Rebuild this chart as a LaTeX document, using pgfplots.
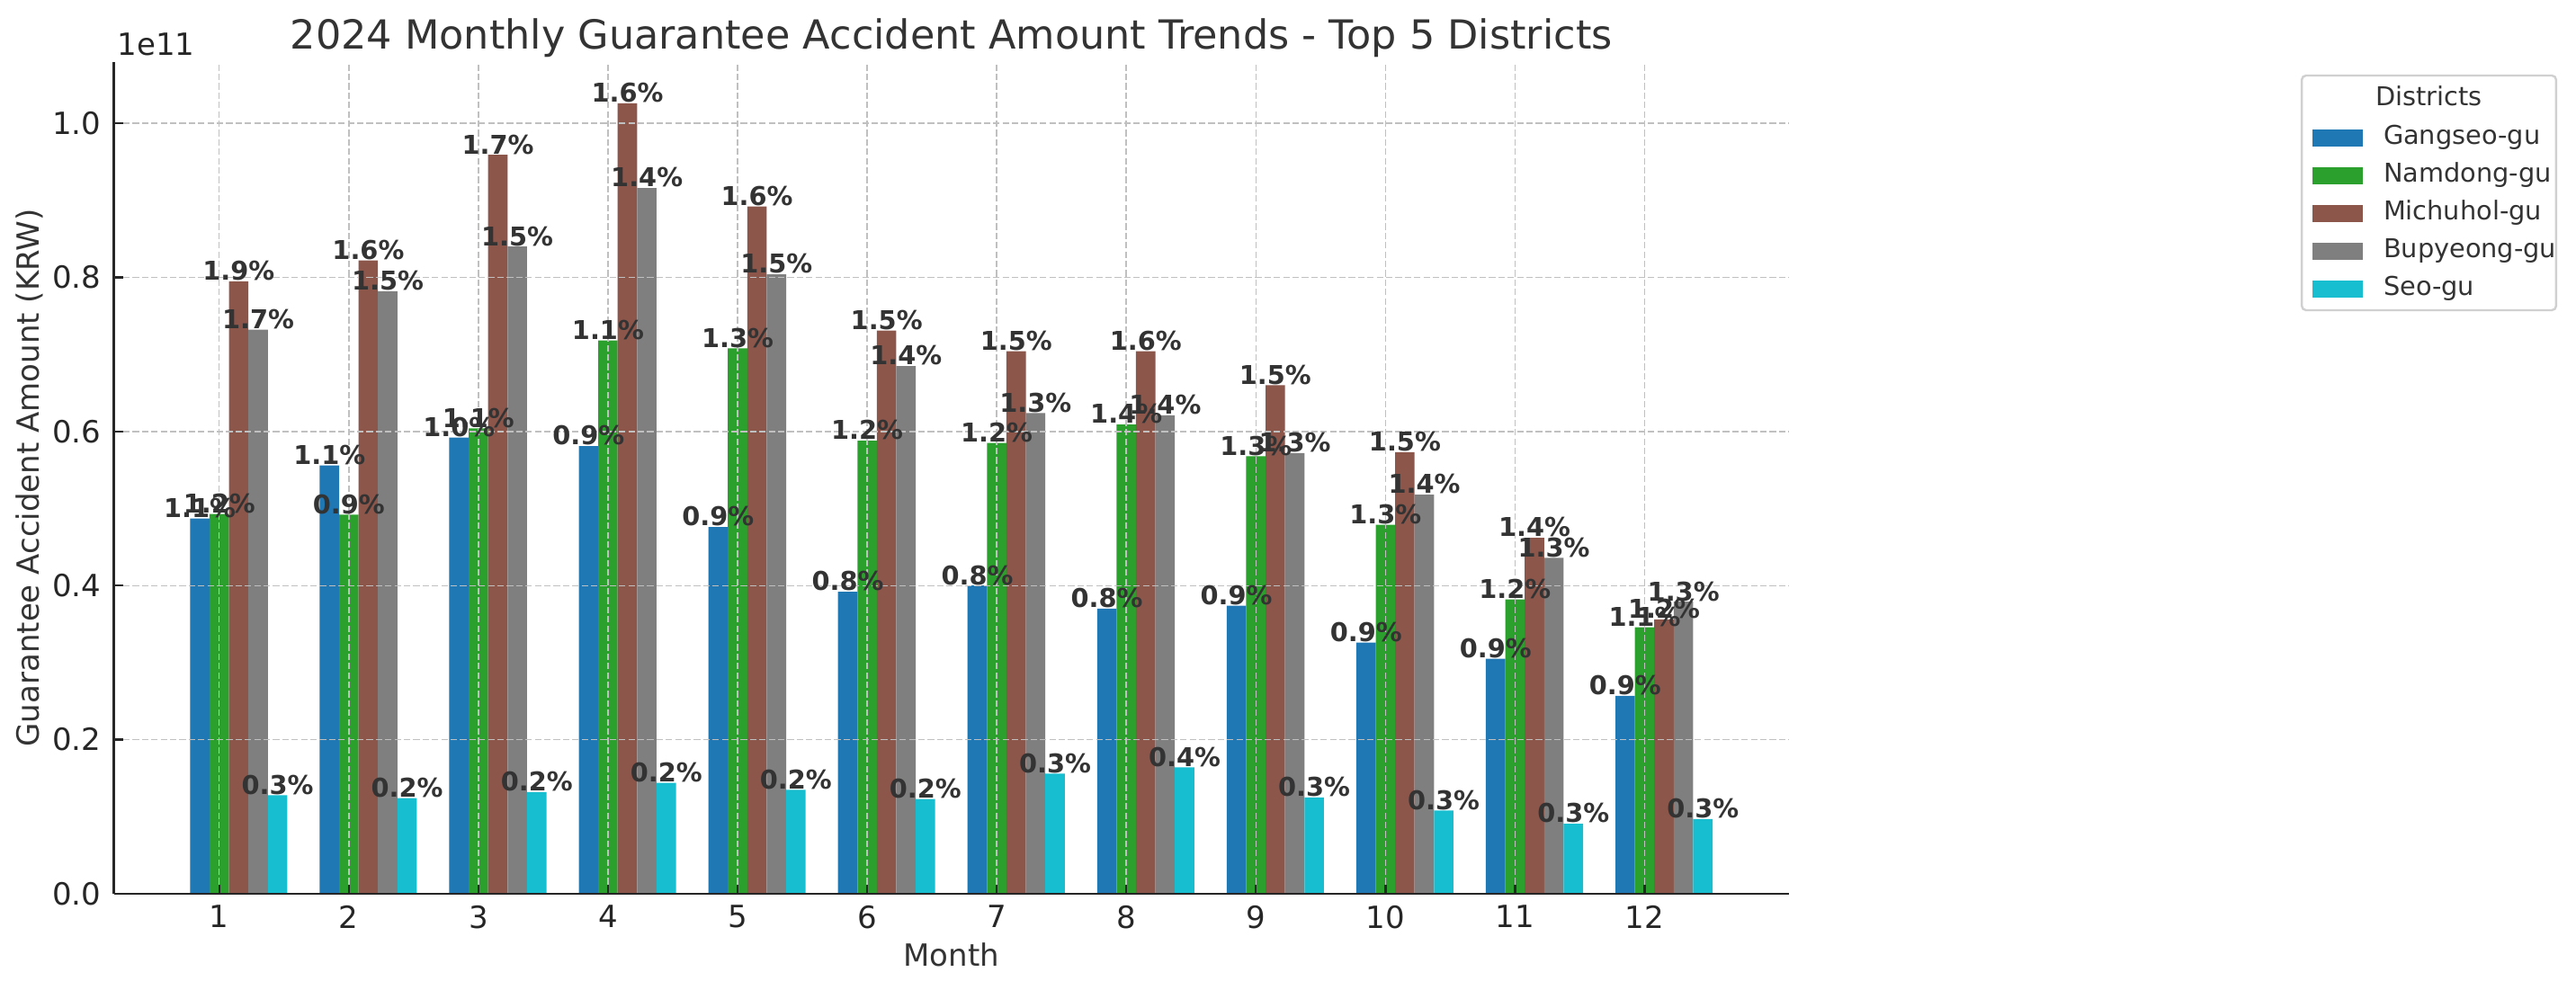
\documentclass[border=0pt]{standalone}
\usepackage{pgfplots}
\pgfplotsset{compat=1.18}
\usepackage{pgfplotstable}
\usepackage{fontspec}
\setmainfont{DejaVu Sans}
\definecolor{cG}{HTML}{1F77B4}
\definecolor{cN}{HTML}{2CA02C}
\definecolor{cM}{HTML}{8C564B}
\definecolor{cB}{HTML}{7F7F7F}
\definecolor{cS}{HTML}{17BECF}
\definecolor{txt}{HTML}{333333}
\definecolor{axc}{HTML}{262626}
\definecolor{gridc}{HTML}{C0C0C0}
\definecolor{legc}{HTML}{D0D0D0}

% values in units of 1e11 KRW; labels = share in percent
\pgfplotstableread{
month G   Gl  N     Nl  M     Ml  B     Bl  S     Sl
1  0.487 1.1 0.493 1.2 0.795 1.9 0.732 1.7 0.128 0.3
2  0.556 1.1 0.492 0.9 0.822 1.6 0.782 1.5 0.124 0.2
3  0.592 1.0 0.604 1.1 0.959 1.7 0.840 1.5 0.132 0.2
4  0.581 0.9 0.718 1.1 1.026 1.6 0.916 1.4 0.144 0.2
5  0.476 0.9 0.708 1.3 0.892 1.6 0.804 1.5 0.135 0.2
6  0.392 0.8 0.588 1.2 0.731 1.5 0.685 1.4 0.123 0.2
7  0.400 0.8 0.585 1.2 0.704 1.5 0.624 1.3 0.156 0.3
8  0.370 0.8 0.609 1.4 0.704 1.6 0.621 1.4 0.164 0.4
9  0.374 0.9 0.568 1.3 0.660 1.5 0.572 1.3 0.125 0.3
10 0.326 0.9 0.479 1.3 0.573 1.5 0.518 1.4 0.108 0.3
11 0.305 0.9 0.382 1.2 0.462 1.4 0.436 1.3 0.091 0.3
12 0.257 0.9 0.346 1.1 0.356 1.2 0.379 1.3 0.097 0.3
}\datatab

\pgfplotsset{
  mybar/.style 2 args={ybar, bar width=0.15, draw=none, fill=#1,
    point meta=explicit symbolic,
    nodes near coords={\pgfplotspointmeta\%},
    nodes near coords style={font=\bfseries\fontsize{7.2}{8}\selectfont, text=txt, anchor=base, inner sep=0pt, yshift=0.3pt, xshift=#2},
    legend image code/.code={\fill[fill=#1] (0pt,-2.4pt) rectangle (14pt,2.4pt);}},
}

\begin{document}
\begin{tikzpicture}
\path[use as bounding box] (-31.675pt,-26.75pt) rectangle (684.325pt,248.5pt);
\begin{axis}[
  at={(0pt,0pt)}, anchor=south west,
  scale only axis, width=465.5pt, height=231.25pt,
  xmin=0.1875, xmax=13.1125, ymin=0, ymax=1.0795,
  axis x line*=bottom, axis y line*=left,
  axis line style={color=axc, line width=0.65pt},
  axis on top,
  xtick={1,2,3,4,5,6,7,8,9,10,11,12},
  ytick={0,0.2,0.4,0.6,0.8,1.0},
  tick align=inside, major tick length=2.5pt,
  tick style={color=axc, line width=0.6pt},
  grid=major,
  major grid style={color=gridc, line width=0.35pt, dash pattern=on 1.8pt off 0.8pt},
  /pgf/number format/assume math mode=true,
  ticklabel style={font=\fontsize{8.5}{10}\selectfont, text=axc},
  yticklabel style={/pgf/number format/fixed, /pgf/number format/fixed zerofill, /pgf/number format/precision=1},
  yticklabel style={inner sep=0pt, xshift=-3.4pt},
  xticklabel style={inner sep=0pt, yshift=-3pt},
  xlabel={Month},
  ylabel={Guarantee Accident Amount (KRW)},
  every axis x label/.style={at={(axis description cs:0.5,-0.0865)}, anchor=base, font=\fontsize{8.5}{10}\selectfont, text=txt},
  every axis y label/.style={at={(axis description cs:-0.0449,0.5)}, rotate=90, anchor=base, font=\fontsize{8.5}{10}\selectfont, text=txt},
  title={2024 Monthly Guarantee Accident Amount Trends - Top 5 Districts},
  every axis title/.style={at={(axis description cs:0.5,1.01514)}, anchor=base, font=\fontsize{11.13}{13}\selectfont, text=txt},
  legend style={at={(axis description cs:1.31219,0.9254)}, anchor=north west,
    draw=none, fill=none, inner sep=0pt, row sep=3.3pt,
    font=\fontsize{7.2}{8.5}\selectfont, text=txt,
    nodes={inner sep=0pt, text height=5.5pt, text depth=1.7pt},
    /tikz/every odd column/.append style={column sep=5.8pt}},
  legend cell align=left,
]
\addplot[mybar={cG}{-5.402pt}, bar shift=-0.15] table[x=month, y=G, meta=Gl] {\datatab};
\addlegendentry{Gangseo-gu}
\addplot[mybar={cN}{0pt}, bar shift=0] table[x=month, y=N, meta=Nl] {\datatab};
\addlegendentry{Namdong-gu}
\addplot[mybar={cM}{5.402pt}, bar shift=0.15] table[x=month, y=M, meta=Ml] {\datatab};
\addlegendentry{Michuhol-gu}
\addplot[mybar={cB}{10.805pt}, bar shift=0.30] table[x=month, y=B, meta=Bl] {\datatab};
\addlegendentry{Bupyeong-gu}
\addplot[mybar={cS}{16.207pt}, bar shift=0.45] table[x=month, y=S, meta=Sl] {\datatab};
\addlegendentry{Seo-gu}
\end{axis}
\node[anchor=base west, inner sep=0pt, font=\fontsize{8.5}{10}\selectfont, text=axc] at (0.8pt,233pt) {1e11};
\draw[legc, line width=0.6pt, rounded corners=1.2pt] (608.1pt,162.25pt) rectangle (678.8pt,227.5pt);
\node[anchor=base, inner sep=0pt, font=\fontsize{7.2}{8.5}\selectfont, text=txt] at (643.45pt,219pt) {Districts};
\end{tikzpicture}
\end{document}
